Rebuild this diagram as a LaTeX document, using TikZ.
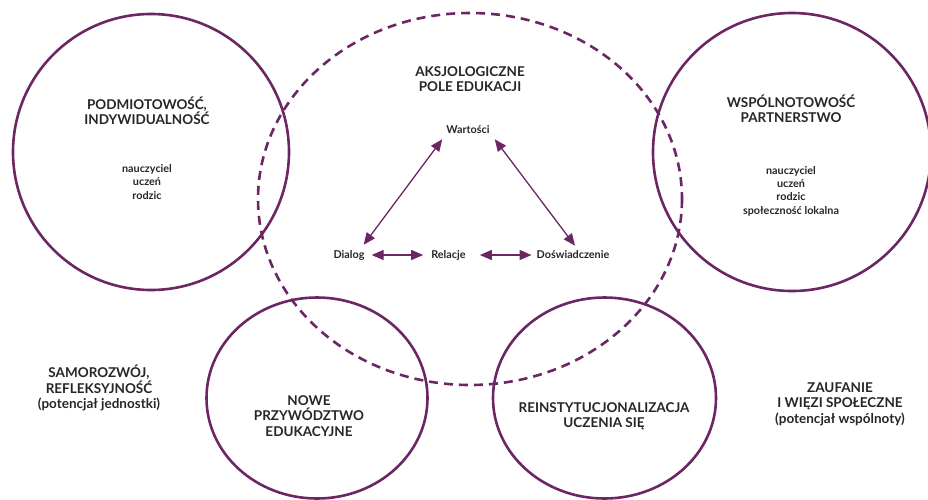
\documentclass[tikz,border=0pt]{standalone}
\usepackage{fontspec}
\setmainfont{Lato}
\usetikzlibrary{arrows.meta}
\definecolor{plum}{RGB}{107,38,100}
\definecolor{ink}{RGB}{38,38,38}
\begin{document}
\begin{tikzpicture}[x=1pt,y=-1pt,
  ring/.style={draw=plum,line width=2.6pt},
  dring/.style={draw=plum,line width=2.6pt,dash pattern=on 9pt off 6pt},
  title/.style={text=ink,font=\bfseries\fontsize{13.5}{15.5}\selectfont,align=center,inner sep=0pt},
  small/.style={text=ink,font=\bfseries\fontsize{10.8}{13.3}\selectfont,align=center,inner sep=0pt},
  link/.style={draw=plum,line width=1.3pt,{Triangle[length=12pt,width=10pt]}-{Triangle[length=12pt,width=10pt]}}]
\useasboundingbox (0,0) rectangle (928,499);
% circles
\draw[ring] (151,152) circle[radius=138];
\draw[ring] (792,152) circle[radius=139];
\draw[ring] (317,398) ellipse[x radius=110.5, y radius=100.5];
\draw[ring] (604.5,398) ellipse[x radius=111.5, y radius=100.5];
\draw[dring] (470,199) ellipse[x radius=212, y radius=186];
% texts
\node[title] (podm) at (147,111) {PODMIOTOWOŚĆ,\\INDYWIDUALNOŚĆ};
\node[small] (podms) at (147,182) {nauczyciel\\uczeń\\rodzic};
\node[title] (wsp) at (791,109) {WSPÓLNOTOWOŚĆ\\PARTNERSTWO};
\node[small] (wsps) at (791,191) {nauczyciel\\uczeń\\rodzic\\społeczność lokalna};
\node[title] (aks) at (470,79) {AKSJOLOGICZNE\\POLE EDUKACJI};
\node[small] (wart) at (468,130) {Wartości};
\node[small] (dial) at (349,255) {Dialog};
\node[small] (rel) at (448.5,255) {Relacje};
\node[small] (dosw) at (573,255) {Doświadczenie};
\node[title] (samo) at (99,388) {SAMOROZWÓJ,\\REFLEKSYJNOŚĆ\\(potencjał jednostki)};
\node[title] (nowe) at (309,416) {NOWE\\PRZYWÓDZTWO\\EDUKACYJNE};
\node[title] (rein) at (604,416) {REINSTYTUCJONALIZACJA\\UCZENIA SIĘ};
\node[title] (zauf) at (840,404) {ZAUFANIE\\I WIĘZI SPOŁECZNE\\(potencjał wspólnoty)};
% arrows
\draw[link] ([shift={(-4,5)}]wart.south west) -- ([shift={(-1,-5)}]dial.north east);
\draw[link] ([shift={(5,5)}]wart.south east) -- ([shift={(2,-5)}]dosw.north);
\draw[link] ([xshift=7pt]dial.east) -- ([xshift=-8pt]rel.west);
\draw[link] ([xshift=14pt]rel.east) -- ([xshift=-5pt]dosw.west);
\end{tikzpicture}
\end{document}
